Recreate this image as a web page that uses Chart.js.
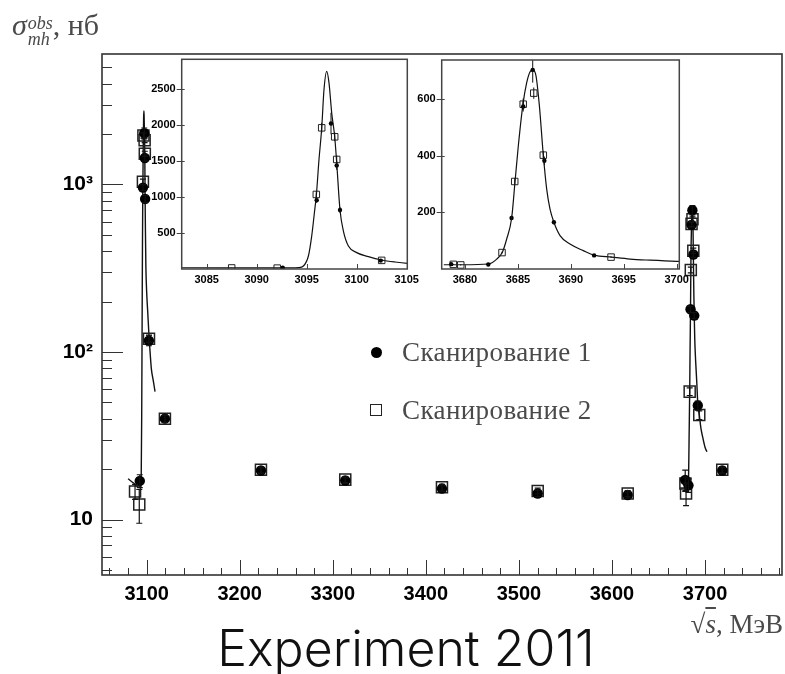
<!DOCTYPE html>
<html lang="ru">
<head>
<meta charset="UTF-8">
<title>Experiment 2011</title>
<script src="https://cdn.jsdelivr.net/npm/chart.js"></script>
<style>
  body { margin: 0; background: #fff; }
  #wrap { position: relative; width: 785px; height: 674px; overflow: hidden; }
  canvas { position: absolute; }
  .serif { position: absolute; font-family: 'Liberation Serif', 'DejaVu Serif', serif; color: #4a4a4a; white-space: nowrap; }
  .mark { position: absolute; box-sizing: border-box; }
</style>
</head>
<body>
<div id="wrap">
  <canvas id="main" width="785" height="674" style="left:0;top:0"></canvas>
  <canvas id="inset1" width="272" height="240" style="left:148px;top:52px"></canvas>
  <canvas id="inset2" width="280" height="240" style="left:415px;top:52px"></canvas>

  <div class="serif" style="left:12px;top:10px;font-size:30px;line-height:1">
    <i>σ</i><span style="display:inline-block;vertical-align:-10px;font-size:18px;line-height:16px;font-style:italic;margin-left:1px"><span style="display:block">obs</span><span style="display:block">mh</span></span>, нб
  </div>

  <div class="mark" style="left:371px;top:347px;width:11px;height:11px;border-radius:50%;background:#000"></div>
  <div class="serif" style="left:402px;top:337px;font-size:27px;line-height:30px;letter-spacing:0.4px">Сканирование 1</div>
  <div class="mark" style="left:370px;top:404px;width:12px;height:12px;border:1.5px solid #222"></div>
  <div class="serif" style="left:402px;top:395px;font-size:27px;line-height:30px;letter-spacing:0.4px">Сканирование 2</div>

  <div class="serif" style="right:2px;top:611px;font-size:27px;line-height:1">√<span style="text-decoration:overline"><i>s</i></span>, МэВ</div>

  <div style="position:absolute;left:406px;top:623px;transform:translateX(-50%);font-family:Inter,'Open Sans',sans-serif;font-weight:300;font-size:50px;line-height:1;color:#111;white-space:nowrap">Experiment 2011</div>
</div>

<script>
// scan 1 (filled circles)
const scan1X = [3092.6, 3096.0, 3097.43, 3098.0, 3098.33, 3102.4, 3119.6, 3222.8, 3313.4, 3417.3, 3520.2, 3616.9,
                3678.7, 3682.2, 3684.4, 3685.5, 3686.4, 3687.5, 3688.4, 3692.2, 3718.5];
const scan1Y = [17, 958, 2024, 1440, 820, 117, 40, 19.6, 17.1, 15.3, 14.3, 14.0,
                17.2, 16, 180, 574, 703, 382, 165, 48, 19.6];
const scan1Err = [1.5, 40, 150, 60, 40, 8, 2, 0.8, 0.7, 0.6, 0.6, 0.6,
                  2.5, 1.5, 8, 18, 45, 15, 7, 3, 0.8];

// scan 2 (open squares)
const scan2X = [3087.5, 3092.05, 3095.96, 3096.5, 3097.8, 3098.0, 3102.5, 3119.6, 3222.8, 3313.4, 3417.3, 3520.2, 3616.9,
                3678.9, 3679.6, 3683.5, 3684.7, 3685.5, 3686.5, 3687.4, 3693.8, 3718.5];
const scan2Y = [14.7, 12.3, 1037, 1964, 1839, 1524, 120, 40, 19.8, 17.3, 15.6, 14.8, 14.3,
                16.4, 14.3, 58, 309, 582, 621, 402, 42, 19.8];
const scan2Err = [1.5, 2.8, 40, 70, 60, 55, 6, 2, 0.8, 0.7, 0.6, 0.6, 0.6,
                  1.5, 2.2, 3, 12, 20, 20, 15, 2.5, 0.8];

// fit curves
const jpsiFitX = [3080, 3086, 3092, 3093.5, 3094.17, 3094.67, 3095.17, 3095.5, 3095.77, 3095.97, 3096.23, 3096.5,
                  3096.73, 3097.0, 3097.23, 3097.5, 3097.8, 3098.0, 3098.33, 3098.67, 3099.17, 3100.0, 3101.17,
                  3102.5, 3103.83, 3105.07, 3107, 3109];
const jpsiFitY = [17.5, 16.5, 15.5, 15.5, 19, 42, 181, 458, 782, 1037, 1523, 1958,
                  2496, 2750, 2589, 2172, 1839, 1478, 820, 528, 320, 228, 172,
                  125, 97, 79, 68, 58];
const psiFitX = [3678, 3679.84, 3682.2, 3683.0, 3683.53, 3683.94, 3684.41, 3684.73, 3685.04, 3685.48, 3685.83,
                 3686.14, 3686.4, 3686.71, 3687.03, 3687.4, 3687.72, 3688.03, 3688.4, 3688.98, 3689.92, 3691.18,
                 3692.22, 3693.86, 3695.6, 3697.49, 3700.0, 3702];
const psiFitY = [15, 15, 17.6, 35, 59, 106, 180, 309, 435, 582, 658,
                 696, 703, 682, 576, 402, 282, 212, 165, 118, 88, 65,
                 49, 42, 35, 31, 27, 25.4];

// axes
const mainXLabels = [3100, 3200, 3300, 3400, 3500, 3600, 3700];
const mainYTicks = [5, 6, 7, 8, 9, 10, 20, 30, 40, 50, 60, 70, 80, 90, 100, 200, 300, 400, 500, 600, 700, 800, 900,
                    1000, 2000, 3000, 4000, 5000];
const mainYLabels = { 10: '10', 100: '10²', 1000: '10³' };
const inset1XTicks = [3085, 3090, 3095, 3100, 3105];
const inset1YTicks = [500, 1000, 1500, 2000, 2500];
const inset2XTicks = [3680, 3685, 3690, 3695, 3700];
const inset2YTicks = [200, 400, 600];

const mainXTicks = [];
for (let v = 3060; v <= 3780; v += 20) mainXTicks.push(v);

const sans = "'Liberation Sans', Arial, sans-serif";

function pts(xs, ys) {
  return xs.map((x, i) => ({ x: x, y: ys[i] }));
}

function datasets(big) {
  return [
    { data: pts(scan1X, scan1Y), errors: scan1Err, pointStyle: 'circle', pointRadius: big ? 5.2 : 2.2,
      pointBackgroundColor: '#000', pointBorderColor: '#000', pointBorderWidth: 0, order: 1 },
    { data: pts(scan2X, scan2Y), errors: scan2Err, pointStyle: 'rect', pointRadius: big ? 7.8 : 4.6,
      pointBackgroundColor: 'rgba(0,0,0,0)', pointBorderColor: '#222', pointBorderWidth: big ? 1.5 : 1, order: 2 },
    { data: pts(jpsiFitX, jpsiFitY), showLine: true, pointRadius: 0, borderColor: '#111',
      borderWidth: big ? 1.4 : 1.2, cubicInterpolationMode: 'monotone', order: 3 },
    { data: pts(psiFitX, psiFitY), showLine: true, pointRadius: 0, borderColor: '#111',
      borderWidth: big ? 1.4 : 1.2, cubicInterpolationMode: 'monotone', order: 3 }
  ];
}

// frame + ticks drawn inside the box like ROOT does
const frameTicks = {
  id: 'frameTicks',
  beforeDraw(chart, args, o) {
    const a = chart.chartArea;
    chart.ctx.fillStyle = '#fff';
    chart.ctx.fillRect(a.left, a.top, a.right - a.left, a.bottom - a.top);
  },
  afterDraw(chart, args, o) {
    const { ctx, chartArea: a, scales: { x, y } } = chart;
    ctx.save();
    ctx.strokeStyle = o.color;
    ctx.lineWidth = 1;
    ctx.beginPath();
    x.ticks.forEach(t => {
      const px = Math.round(x.getPixelForValue(t.value)) + 0.5;
      const len = o.xMajor(t.value) ? o.xMajorLen : o.xMinorLen;
      ctx.moveTo(px, a.bottom);
      ctx.lineTo(px, a.bottom - len);
    });
    y.ticks.forEach(t => {
      const py = Math.round(y.getPixelForValue(t.value)) + 0.5;
      const len = o.yMajor(t.value) ? o.yMajorLen : o.yMinorLen;
      ctx.moveTo(a.left - o.yOut, py);
      ctx.lineTo(a.left + len, py);
    });
    ctx.stroke();
    ctx.lineWidth = o.frameWidth;
    ctx.strokeRect(a.left, a.top, a.right - a.left, a.bottom - a.top);
    ctx.restore();
  }
};

const errorBars = {
  id: 'errorBars',
  afterDatasetsDraw(chart, args, o) {
    const { ctx, chartArea: a, scales: { y } } = chart;
    ctx.save();
    ctx.beginPath();
    ctx.rect(a.left, a.top, a.right - a.left, a.bottom - a.top);
    ctx.clip();
    ctx.strokeStyle = '#111';
    ctx.lineWidth = o.width;
    chart.data.datasets.forEach((ds, i) => {
      if (!ds.errors) return;
      chart.getDatasetMeta(i).data.forEach((pt, j) => {
        const e = ds.errors[j];
        const v = ds.data[j].y;
        const y1 = y.getPixelForValue(v - e), y2 = y.getPixelForValue(v + e);
        ctx.beginPath();
        ctx.moveTo(pt.x, y1);
        ctx.lineTo(pt.x, y2);
        if (o.cap) {
          ctx.moveTo(pt.x - o.cap, y1); ctx.lineTo(pt.x + o.cap, y1);
          ctx.moveTo(pt.x - o.cap, y2); ctx.lineTo(pt.x + o.cap, y2);
        }
        ctx.stroke();
      });
    });
    ctx.restore();
  }
};

function axis(type, min, max, ticks, size, fit, font, padding, labelFn) {
  return {
    type: type, min: min, max: max,
    grid: { display: false, drawTicks: false },
    border: { display: false },
    afterBuildTicks: s => { s.ticks = ticks.map(v => ({ value: v })); },
    afterFit: s => {
      s[fit] = size;
      // keep label overhang from shrinking the plot box
      s.paddingLeft = s.paddingRight = s.paddingTop = s.paddingBottom = 0;
    },
    ticks: { autoSkip: false, maxRotation: 0, padding: padding, color: '#000', font: font, callback: labelFn }
  };
}

new Chart(document.getElementById('main'), {
  type: 'scatter',
  data: { datasets: datasets(true) },
  options: {
    responsive: false, animation: false, devicePixelRatio: 1,
    layout: { autoPadding: false, padding: { top: 54, right: 3, left: 0, bottom: 0 } },
    plugins: {
      legend: { display: false }, tooltip: { enabled: false },
      frameTicks: { color: '#333', frameWidth: 1.6, xMajor: v => v % 100 === 0, xMajorLen: 15, xMinorLen: 7,
                    yMajor: v => v in mainYLabels, yMajorLen: 21, yMinorLen: 10, yOut: 0 },
      errorBars: { width: 1.2, cap: 3 }
    },
    scales: {
      x: axis('linear', 3052, 3782.7, mainXTicks, 99, 'height', { family: sans, size: 20, weight: 'bold' }, 7,
              v => mainXLabels.includes(v) ? String(v) : ''),
      y: axis('logarithmic', 4.663, 6013, mainYTicks, 102, 'width', { family: sans, size: 21, weight: 'bold' }, 9,
              v => mainYLabels[v] || '')
    }
  },
  plugins: [frameTicks, errorBars]
});

function inset(id, xr, yr, xt, yt, yw, pad) {
  new Chart(document.getElementById(id), {
    type: 'scatter',
    data: { datasets: datasets(false) },
    options: {
      responsive: false, animation: false, devicePixelRatio: 1,
      layout: { autoPadding: false, padding: pad },
      plugins: {
        legend: { display: false }, tooltip: { enabled: false },
        frameTicks: { color: '#444', frameWidth: 1.5, xMajor: () => true, xMajorLen: 5, xMinorLen: 5,
                      yMajor: () => true, yMajorLen: 3, yMinorLen: 3, yOut: 5 },
        errorBars: { width: 1, cap: 0 }
      },
      scales: {
        x: axis('linear', xr[0], xr[1], xt, 23, 'height', { family: sans, size: 11, weight: 'bold' }, 4, v => String(v)),
        y: axis('linear', yr[0], yr[1], yt, yw, 'width', { family: sans, size: 11, weight: 'bold' }, 6, v => String(v))
      }
    },
    plugins: [frameTicks, errorBars]
  });
}

inset('inset1', [3082.5, 3105.06], [0, 2917], inset1XTicks, inset1YTicks, 33.7, { top: 7.3, right: 12.7, left: 0, bottom: 0 });
inset('inset2', [3677.8, 3700.25], [0, 738], inset2XTicks, inset2YTicks, 26.7, { top: 8, right: 15.7, left: 0, bottom: 0 });
</script>
</body>
</html>
